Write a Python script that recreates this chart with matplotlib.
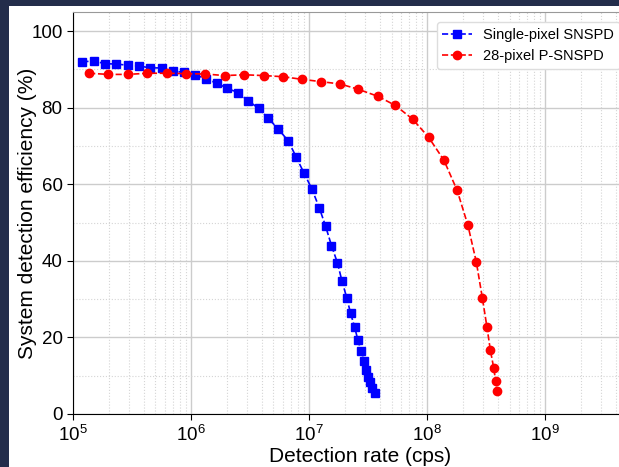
import matplotlib
matplotlib.use("Agg")
import matplotlib.pyplot as plt
from matplotlib.patches import Rectangle
from matplotlib.ticker import FixedLocator, LogLocator, MultipleLocator

plt.rcParams['font.family'] = ['Liberation Sans', 'DejaVu Sans']
plt.rcParams['mathtext.default'] = 'regular'

# single-pixel SNSPD
rate_single = [1.20e5, 1.50e5, 1.87e5, 2.33e5, 2.91e5, 3.62e5, 4.52e5, 5.65e5,
               7.00e5, 8.73e5, 1.08e6, 1.33e6, 1.65e6, 2.03e6, 2.50e6, 3.06e6,
               3.75e6, 4.52e6, 5.50e6, 6.68e6, 7.76e6, 9.08e6, 1.06e7, 1.22e7,
               1.38e7, 1.55e7, 1.74e7, 1.90e7, 2.09e7, 2.25e7, 2.44e7, 2.60e7,
               2.77e7, 2.91e7, 3.04e7, 3.18e7, 3.29e7, 3.42e7, 3.61e7]
eff_single = [92.0, 92.2, 91.5, 91.4, 91.1, 90.9, 90.4, 90.4,
              89.6, 89.2, 88.6, 87.6, 86.4, 85.1, 83.9, 81.8,
              79.8, 77.2, 74.4, 71.3, 67.2, 62.9, 58.7, 53.9,
              49.1, 44.0, 39.5, 34.8, 30.3, 26.3, 22.6, 19.2,
              16.4, 13.8, 11.6, 9.7, 8.3, 6.9, 5.6]

# 28-pixel P-SNSPD
rate_multi = [1.37e5, 1.99e5, 2.91e5, 4.24e5, 6.22e5, 9.08e5, 1.32e6, 1.93e6,
              2.83e6, 4.13e6, 6.03e6, 8.78e6, 1.27e7, 1.84e7, 2.62e7, 3.82e7,
              5.39e7, 7.56e7, 1.03e8, 1.39e8, 1.80e8, 2.22e8, 2.62e8, 2.94e8,
              3.22e8, 3.44e8, 3.67e8, 3.82e8, 3.92e8]
eff_multi = [89.0, 88.7, 88.7, 89.0, 89.0, 88.9, 88.8, 88.4,
             88.6, 88.4, 88.1, 87.4, 86.8, 86.2, 84.8, 83.0,
             80.6, 77.0, 72.3, 66.3, 58.4, 49.3, 39.6, 30.4,
             22.7, 16.7, 12.1, 8.5, 5.9]

x_ticks = [1e5, 1e6, 1e7, 1e8, 1e9]

fig = plt.figure(figsize=(6.19, 4.67), dpi=100, facecolor='#232d4b')
fig.patches.append(Rectangle((9 / 619, 0), 1, (467 - 6) / 467,
                             transform=fig.transFigure, facecolor='white',
                             edgecolor='none', zorder=-10))

# axes runs past the right edge of the picture, as in the original crop
ax = fig.add_axes([73 / 619, 53 / 467, 574 / 619, 402 / 467])
ax.plot(rate_single, eff_single, '--s', color='blue', markersize=5.8,
        linewidth=1.2, label='Single-pixel SNSPD')
ax.plot(rate_multi, eff_multi, '--o', color='red', markersize=6,
        linewidth=1.2, label='28-pixel P-SNSPD')

ax.set_xscale('log')
ax.set_xlim(1e5, 10 ** 9.864)
ax.set_ylim(0, 105)
ax.xaxis.set_major_locator(FixedLocator(x_ticks))
ax.xaxis.set_minor_locator(LogLocator(base=10, subs=range(2, 10), numticks=50))
ax.yaxis.set_major_locator(MultipleLocator(20))
ax.yaxis.set_minor_locator(MultipleLocator(10))

ax.grid(which='major', color='#cccccc', linewidth=1.0, linestyle='-')
ax.grid(which='minor', color='#d5d5d5', linewidth=0.8, linestyle=':')
ax.set_axisbelow(True)
ax.tick_params(which='major', labelsize=13.5, length=4)
ax.tick_params(which='minor', length=0)

ax.spines['top'].set_color('#999999')
ax.spines['right'].set_visible(False)

ax.set_xlabel('Detection rate (cps)', fontsize=15, labelpad=2)
ax.set_ylabel('System detection efficiency (%)', fontsize=15)
ax.yaxis.set_label_coords(-36 / 574, 0.5)

fig.legend(loc='upper right', bbox_to_anchor=(1.0 + 1 / 619, (467 - 22) / 467),
           fontsize=10.5, framealpha=1, edgecolor='#dddddd', fancybox=True,
           handlelength=2.0, borderaxespad=0)

plt.savefig('out.png', dpi=100, facecolor=fig.get_facecolor())
